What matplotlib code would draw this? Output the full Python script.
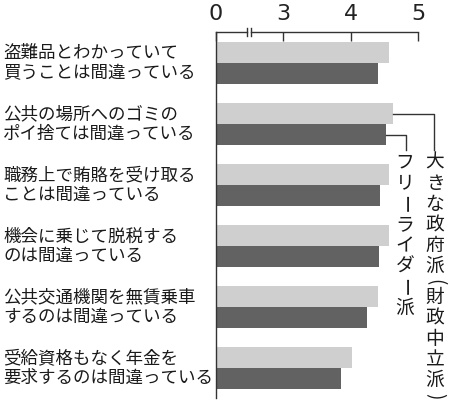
import matplotlib
matplotlib.use("Agg")
import matplotlib.pyplot as plt
from matplotlib import transforms

plt.rcParams['font.family'] = ['Noto Sans CJK JP', 'DejaVu Sans']

# data
categories = [
    "盗難品とわかっていて\n買うことは間違っている",
    "公共の場所へのゴミの\nポイ捨ては間違っている",
    "職務上で賄賂を受け取る\nことは間違っている",
    "機会に乗じて脱税する\nのは間違っている",
    "公共交通機関を無賃乗車\nするのは間違っている",
    "受給資格もなく年金を\n要求するのは間違っている",
]
big_gov = [4.57, 4.62, 4.57, 4.57, 4.40, 4.02]
free_rider = [4.41, 4.52, 4.44, 4.42, 4.24, 3.85]
series_names = ["大きな政府派（財政中立派）", "フリーライダー派"]
tick_values = [2, 3, 4, 5]
tick_labels = ["0", "3", "4", "5"]
x_break = 2.5

W, H = 450, 407
LIGHT = "#cfcfcf"
DARK = "#626262"
INK = "#333333"

fig = plt.figure(figsize=(W / 100, H / 100), dpi=100)
ax = fig.add_axes([215.7 / W, 1 - 398 / H, (418.3 - 215.7) / W, (398 - 32) / H])

h = 0.345
ys = list(range(len(categories)))
ax.barh([y - h / 2 for y in ys], big_gov, height=h, color=LIGHT, left=0)
ax.barh([y + h / 2 for y in ys], free_rider, height=h, color=DARK, left=0)

ax.set_xlim(2, 5)
ax.set_ylim(len(categories) - 0.51, -0.51)
ax.set_yticks([])

for s in ("top", "right", "bottom"):
    ax.spines[s].set_visible(False)
ax.spines["left"].set_color(INK)
ax.spines["left"].set_linewidth(1.0)

ax.xaxis.tick_top()
ax.set_xticks(tick_values)
ax.set_xticklabels(tick_labels, family=['Liberation Sans Narrow', 'DejaVu Sans'])
ax.tick_params(axis="x", direction="in", length=6.5, width=1.0, color=INK,
               pad=6, labelsize=16, labelcolor="#222222")

# top axis line with a break mark
tr = transforms.blended_transform_factory(ax.transData, ax.transAxes)
gap = 0.03
ax.plot([2, x_break - gap], [1, 1], color=INK, lw=1.0, transform=tr, clip_on=False)
ax.plot([x_break + gap, 5], [1, 1], color=INK, lw=1.0, transform=tr, clip_on=False)
for xb in (x_break - gap, x_break + gap):
    ax.plot([xb, xb], [1 - 0.012, 1 + 0.012], color=INK, lw=1.0,
            transform=tr, clip_on=False)

# category labels on the left
lt = transforms.blended_transform_factory(fig.transFigure, ax.transData)
for y, lab in zip(ys, categories):
    ax.text(3 / W, y, lab, transform=lt, ha="left", va="center",
            fontsize=12.6, linespacing=1.1, color="#1a1a1a")


def to_data(px, py):
    return ax.transData.inverted().transform((px, H - py))


# leader lines from the second category's bars
i = 1
_, y_end = to_data(0, 150)
x_big, _ = to_data(434, 0)
x_free, _ = to_data(406, 0)
ax.plot([big_gov[i], x_big, x_big], [i - h / 2, i - h / 2, y_end],
        color=INK, lw=1.0, clip_on=False)
ax.plot([free_rider[i], x_free, x_free], [i + h / 2, i + h / 2, y_end],
        color=INK, lw=1.0, clip_on=False)


def vtext(s, x_px, y_top, pitch=20.8, size=13.5):
    # vertical writing: one glyph per slot, rotate long vowel mark and brackets
    y = y_top
    for ch in s:
        shown = {"（": "(", "）": ")"}.get(ch, ch)
        step = pitch / 2 if shown in "()" else pitch
        rot = -90 if shown in "ー()" else 0
        fig.text(x_px / W, 1 - (y + step / 2) / H, shown, ha="center", va="center",
                 rotation=rot, rotation_mode="anchor", fontsize=size,
                 color="#1a1a1a")
        y += step


vtext(series_names[0], 435, 152)
vtext(series_names[1], 405, 152)

fig.savefig("out.png", dpi=100)
